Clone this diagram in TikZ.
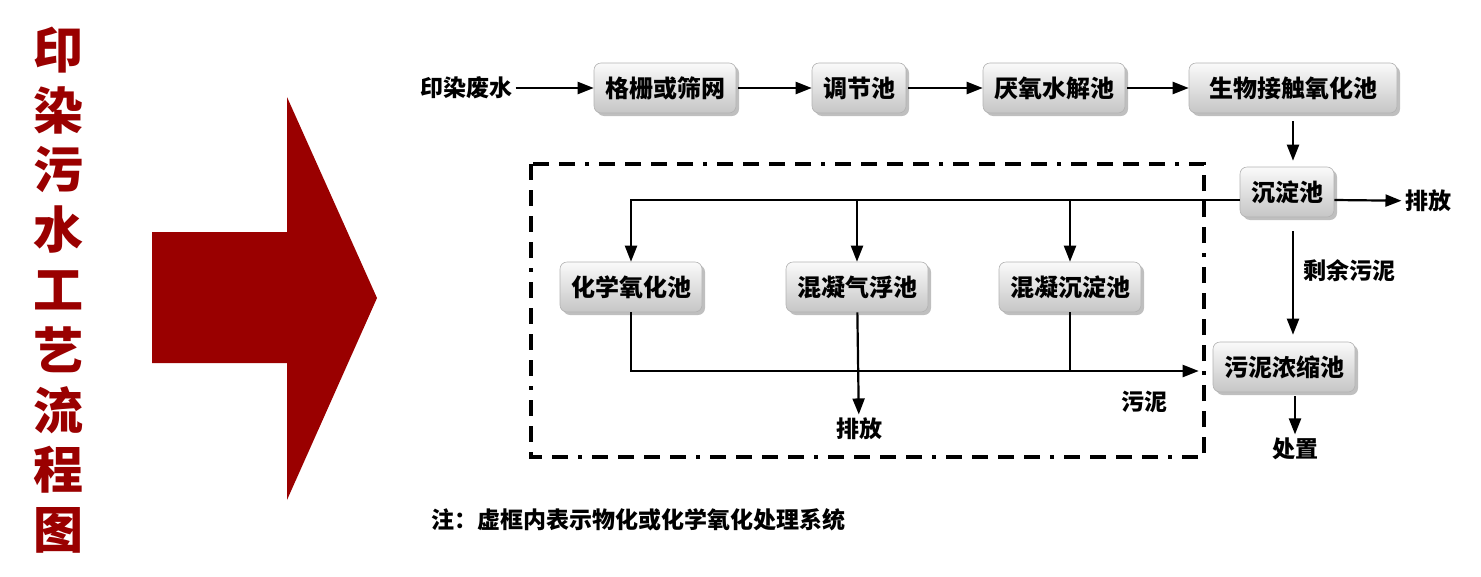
\documentclass[tikz,border=0pt]{standalone}
\usepackage{fontspec}
\setmainfont{Noto Sans CJK SC}
\usepackage{xcolor}
\usepackage{tikz}
\usetikzlibrary{shapes,arrows.meta,positioning,calc,shadows}
\definecolor{dyered}{HTML}{9A0000}

\begin{document}
\begin{tikzpicture}[x=1pt, y=-1pt,
    pool/.style={draw=gray!60, line width=0.6pt, rounded corners=7pt, top color=gray!4, bottom color=gray!45,
        drop shadow={shadow xshift=3pt, shadow yshift=-3pt, opacity=0.5}, minimum height=50, inner xsep=11,
        font=\fontsize{24}{28}\selectfont\bfseries},
    lbl/.style={font=\fontsize{23}{27}\selectfont\bfseries},
    flow/.style={line width=2.2pt, -{Triangle[length=16pt,width=12pt]}},
    line/.style={line width=2.2pt},
    frame/.style={line width=3.2pt, dash pattern=on 16pt off 10pt on 16pt off 10pt on 16pt off 10pt on 16pt off 10pt on 4pt off 10pt},
    title/.style={text=dyered, font=\fontsize{50}{50}\selectfont\bfseries}]
    \useasboundingbox (0,0) rectangle (1481,576);

    % Title and big arrow
    \foreach \c [count=\i] in {印,染,污,水,工,艺,流,程,图}
        \node[title] (t\i) at (58, 50+60*\i-60) {\c};
    \fill[dyered] (152,232) -- (287,232) -- (287,97) -- (377,298) -- (287,500) -- (287,363) -- (152,363) -- cycle;

    % Main line
    \node[lbl] (src) at (466,88) {印染废水};
    \node[pool] (b1) at (665,88) {格栅或筛网};
    \node[pool] (b2) at (859,88) {调节池};
    \node[pool] (b3) at (1054,88) {厌氧水解池};
    \node[pool, minimum width=208] (b4) at (1293,88) {生物接触氧化池};
    \node[pool] (chen) at (1287,192) {沉淀池};
    \node[pool] (nong) at (1284,367) {污泥浓缩池};

    \draw[flow] (src) -- (b1);
    \draw[flow, shorten <=2pt] (b1) -- (b2);
    \draw[flow, shorten <=2pt] (b2) -- (b3);
    \draw[flow, shorten <=2pt] (b3) -- (b4);
    \draw[flow, shorten <=8pt, shorten >=6pt] (b4.south) -- (b4.south |- chen.north);

    % Outlets
    \node[lbl] (out1) at (1428,201) {排放};
    \node[lbl] (excess) at (1349,271) {剩余污泥};
    \node[lbl] (dispose) at (1295,449) {处置};
    \draw[flow] ([yshift=-8pt]chen.east) -- (out1);
    \draw[flow, shorten <=14pt, shorten >=7pt] (chen.south -| b4.south) -- (nong.north -| b4.south);
    \draw[flow, shorten <=4pt] (nong.south -| dispose) -- (dispose);

    % Physico-chemical part
    \node[pool] (ox) at (631,287) {化学氧化池};
    \node[pool] (fl) at (857,287) {混凝气浮池};
    \node[pool] (cs) at (1070,287) {混凝沉淀池};
    \coordinate (bus) at ([yshift=-8pt]chen.west);
    \coordinate (mud) at ([xshift=-14pt, yshift=-4pt]nong.west);
    \draw[flow] (bus) -| (ox);
    \draw[flow] (fl |- bus) -- (fl);
    \draw[flow] (cs |- bus) -- (cs);
    \node[lbl] (out2) at (859,429) {排放};
    \node[lbl] (sludge) at (1144,402) {污泥};
    \draw[flow] (ox) |- (mud);
    \draw[line] (cs) -- (cs |- mud);
    \draw[flow] (fl) -- (out2);

    \draw[frame] (531,164) rectangle (1204,457);

    % Note
    \node[lbl, anchor=west, inner sep=0] (note) at (431,520) {注：虚框内表示物化或化学氧化处理系统};
\end{tikzpicture}
\end{document}
